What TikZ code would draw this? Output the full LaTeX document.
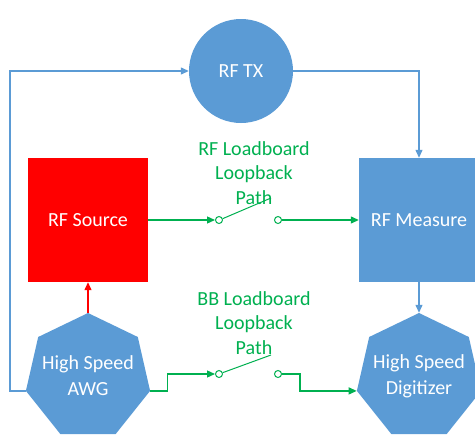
\documentclass[tikz,border=0pt]{standalone}
\usepackage{fontspec}
\setmainfont{Carlito}
\usetikzlibrary{shapes.geometric,arrows.meta}
\definecolor{obl}{HTML}{5B9BD5}
\definecolor{ogr}{HTML}{00B050}
\definecolor{ored}{HTML}{FF0000}
\tikzset{
  shp/.style={text=white, font=\fontsize{20}{26}\selectfont, align=center, inner sep=0pt},
  circ/.style={shp, circle, fill=obl, minimum size=104pt},
  sqbox/.style={shp, rectangle, minimum width=120pt, minimum height=124pt},
  hept/.style={regular polygon, regular polygon sides=7, fill=obl, inner sep=0pt, minimum size=127.4pt},
  lbl/.style={text=ogr, font=\fontsize{20}{24.5}\selectfont, align=center, inner sep=0pt},
  swc/.style={circle, draw=ogr, line width=1pt, minimum size=7pt, inner sep=0pt},
  tip/.style={-{Triangle[length=8pt,width=7pt]}},
  bline/.style={draw=obl, line width=1.3pt},
  gline/.style={draw=ogr, line width=1.3pt},
  rline/.style={draw=ored, line width=1.3pt}
}
\begin{document}
\begin{tikzpicture}[x=1pt,y=-1pt]
\useasboundingbox (0,0) rectangle (475,437);
\node[circ] (tx) at (241,71) {RF TX};
\node[sqbox, fill=ored] (src) at (88,220) {RF Source};
\node[sqbox, fill=obl] (meas) at (419,220) {RF Measure};
\node[hept] (awg) at (88,376.7) {};
\node[shp] (awgt) at (88,376) {High Speed\\AWG};
\node[hept] (dig) at (419,376.7) {};
\node[shp] (digt) at (419,376) {High Speed\\Digitizer};
\node[lbl] (rfl) at (254,173) {RF Loadboard\\Loopback\\Path};
\node[lbl] (bbl) at (254,323) {BB Loadboard\\Loopback\\Path};
\node[swc] (s1a) at (219,220) {};
\node[swc] (s1b) at (278,220) {};
\node[swc] (s2a) at (219,374) {};
\node[swc] (s2b) at (278,374) {};
\coordinate (l1) at (271,198);
\coordinate (l2) at (271,355);
\coordinate (bl) at (10,71);
% blue connectors
\draw[bline, tip] (awg.corner 3) -| (bl) -- (tx.west);
\draw[bline, tip] (tx.east) -| (meas.north);
\draw[bline, tip] (meas.south) -- (dig.corner 1);
% red connector
\draw[rline, tip] (awg.corner 1) -- (src.south);
% green RF path
\draw[gline, tip] (src.east) -- (s1a.west);
\draw[gline, line width=1pt] (s1a.20) -- (l1);
\draw[gline, tip] (s1b.east) -- (meas.west);
% green BB path
\draw[gline, tip] (awg.corner 6) -- ++(17,0) |- (s2a.west);
\draw[gline, line width=1pt] (s2a.20) -- (l2);
\draw[gline, tip] (s2b.east) -- ++(18,0) |- (dig.corner 3);
\end{tikzpicture}
\end{document}
